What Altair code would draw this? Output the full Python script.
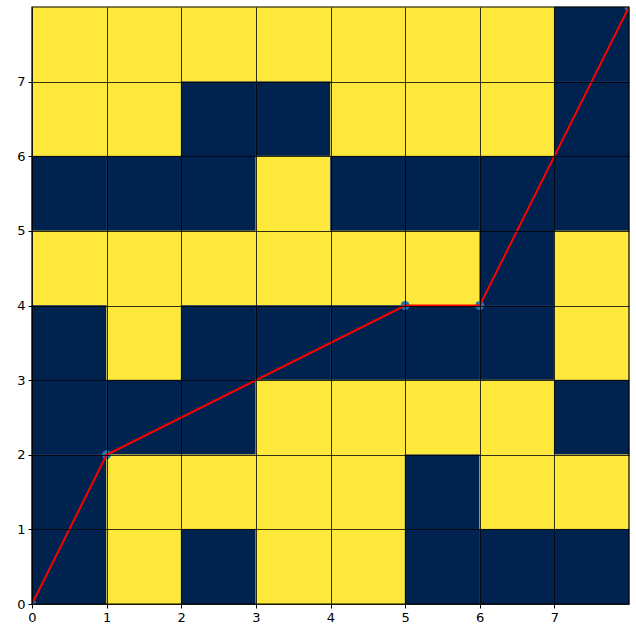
import altair as alt
import pandas as pd

# cell values, rows from y=7 (top) down to y=0 (bottom); 1 = yellow, 0 = navy
grid_rows = [
    [1, 1, 1, 1, 1, 1, 1, 0],
    [1, 1, 0, 0, 1, 1, 1, 0],
    [0, 0, 0, 1, 0, 0, 0, 0],
    [1, 1, 1, 1, 1, 1, 0, 1],
    [0, 1, 0, 0, 0, 0, 0, 1],
    [0, 0, 0, 1, 1, 1, 1, 0],
    [0, 1, 1, 1, 1, 0, 1, 1],
    [0, 1, 0, 1, 1, 0, 0, 0],
]
path_x = [0, 1, 5, 6, 8]
path_y = [0, 2, 4, 4, 8]
tick_values = [0, 1, 2, 3, 4, 5, 6, 7]

cells = []
n = len(grid_rows)
for i, row in enumerate(grid_rows):
    y = n - 1 - i
    for x, v in enumerate(row):
        cells.append({"x": x, "x2": x + 1, "y": y, "y2": y + 1, "v": v})
cells_df = pd.DataFrame(cells)
path_df = pd.DataFrame({"x": path_x, "y": path_y, "order": range(len(path_x))})
frame_df = pd.DataFrame({"x": [0], "x2": [8], "y": [0], "y2": [8]})

xs = alt.Scale(domain=[0, 8], nice=False, zero=False)
ys = alt.Scale(domain=[0, 8], nice=False, zero=False)

axis_common = dict(
    values=tick_values, format="d", grid=True, gridColor="black", gridWidth=0.8, gridOpacity=1,
    domain=False, tickColor="black", tickSize=4, labelFontSize=13, labelColor="black",
    labelFont="DejaVu Sans", title=None, zindex=1, labelPadding=3,
    labelFlush=False, labelOverlap=False,
)

rects = alt.Chart(cells_df).mark_rect(strokeWidth=0.5).encode(
    x=alt.X("x:Q", scale=xs, axis=alt.Axis(**axis_common)),
    x2="x2:Q",
    y=alt.Y("y:Q", scale=ys, axis=alt.Axis(**axis_common)),
    y2="y2:Q",
    color=alt.Color("v:N", scale=alt.Scale(domain=[0, 1], range=["#00224e", "#fde83b"]), legend=None),
    stroke=alt.Stroke("v:N", scale=alt.Scale(domain=[0, 1], range=["#00224e", "#fde83b"]), legend=None),
)

frame = alt.Chart(frame_df).mark_rect(fill=None, stroke="black", strokeWidth=1.2).encode(
    x=alt.X("x:Q", scale=xs), x2="x2:Q", y=alt.Y("y:Q", scale=ys), y2="y2:Q"
)

points = alt.Chart(path_df).mark_circle(size=80, color="#1f77b4", opacity=1, clip=True).encode(
    x=alt.X("x:Q", scale=xs), y=alt.Y("y:Q", scale=ys)
)

line = alt.Chart(path_df).mark_line(color="red", strokeWidth=2, clip=True).encode(
    x=alt.X("x:Q", scale=xs), y=alt.Y("y:Q", scale=ys), order="order:Q"
)

chart = alt.layer(rects, points, line, frame).properties(
    width=597, height=597,
    padding={"left": 32, "top": 7, "right": 7, "bottom": 32},
    autosize=alt.AutoSizeParams(type="none"),
    background="white",
).configure_view(stroke=None)

chart.save("out.html", embed_options={"renderer": "svg", "actions": False})
